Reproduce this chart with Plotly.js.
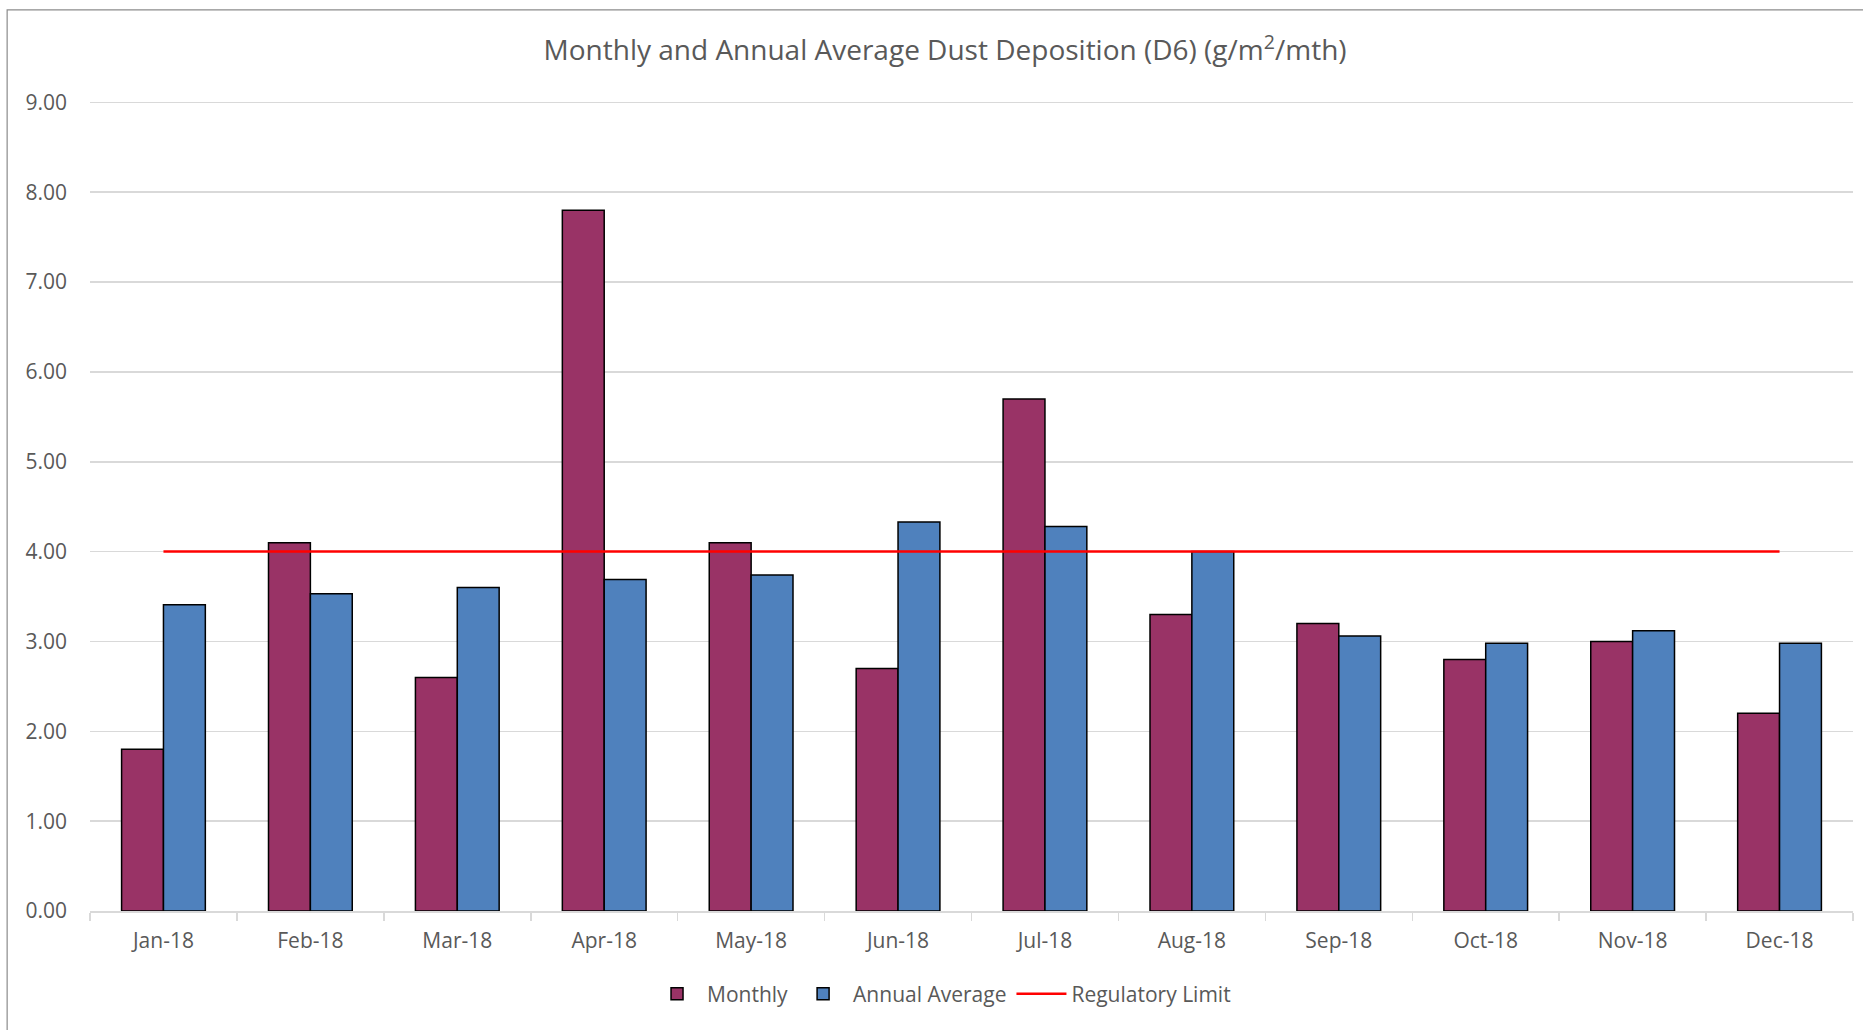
<!DOCTYPE html>
<html>
<head>
<meta charset="utf-8">
<script src="https://cdn.plot.ly/plotly-3.0.1.min.js"></script>
<style>html,body{margin:0;padding:0;background:#fff;}#chart{width:1863px;height:1030px;}</style>
</head>
<body>
<div id="chart"></div>
<script>
const months = ["Jan-18","Feb-18","Mar-18","Apr-18","May-18","Jun-18","Jul-18","Aug-18","Sep-18","Oct-18","Nov-18","Dec-18"];
const monthly = [1.8, 4.1, 2.6, 7.8, 4.1, 2.7, 5.7, 3.3, 3.2, 2.8, 3.0, 2.2];
const annualAverage = [3.41, 3.53, 3.60, 3.69, 3.74, 4.33, 4.28, 4.00, 3.06, 2.98, 3.12, 2.98];
const regulatoryLimit = [4, 4, 4, 4, 4, 4, 4, 4, 4, 4, 4, 4];
const yTicks = [0, 1, 2, 3, 4, 5, 6, 7, 8, 9];

const font = "Open Sans, Noto Sans, sans-serif";
const txt = "#595959";

const traces = [
  {type: "bar", name: "Monthly", x: months, y: monthly,
   marker: {color: "#993366", line: {color: "#000000", width: 1.5}}},
  {type: "bar", name: "Annual Average", x: months, y: annualAverage,
   marker: {color: "#4F81BD", line: {color: "#000000", width: 1.5}}},
  {type: "scatter", mode: "lines", name: "Regulatory Limit", x: months, y: regulatoryLimit,
   line: {color: "#FF0000", width: 2.5}}
];

const layout = {
  width: 1863, height: 1030,
  paper_bgcolor: "#ffffff", plot_bgcolor: "#ffffff",
  margin: {l: 90, r: 10, t: 97, b: 119},
  font: {family: font, color: txt, size: 21},
  title: {text: "Monthly and Annual Average Dust Deposition (D6) (g/m<sup>2</sup>/mth)",
          font: {family: font, size: 28, color: txt},
          x: 0.485, xref: "paper", xanchor: "center", y: 0.951, yanchor: "middle"},
  barmode: "group", bargap: 0.43, bargroupgap: 0,
  xaxis: {type: "category", showgrid: false, showline: true, linecolor: "#d9d9d9", linewidth: 1.5,
          ticks: "outside", tickson: "boundaries", ticklen: 8, tickcolor: "#d9d9d9", tickwidth: 1.5,
          ticklabelstandoff: 10,
          tickfont: {family: font, size: 21, color: txt}, automargin: false},
  yaxis: {range: [0, 9.06], tickvals: yTicks, tickformat: ".2f", showgrid: true, gridcolor: "#d9d9d9", gridwidth: 1.5,
          zeroline: false, showline: false, ticks: "", ticklabelstandoff: 22,
          tickfont: {family: font, size: 21, color: txt}, automargin: false},
  legend: {orientation: "h", x: 0.483, xanchor: "center", y: -0.102, yanchor: "middle",
           font: {family: font, size: 21, color: txt}, itemwidth: 50, traceorder: "normal"},
  shapes: [{type: "rect", xref: "paper", yref: "paper", x0: -0.047, x1: 1.5, y0: -1, y1: 1.107,
            line: {color: "#8c8c8c", width: 1.2}, fillcolor: "rgba(0,0,0,0)", layer: "below"}],
  showlegend: true
};

Plotly.newPlot("chart", traces, layout, {displayModeBar: false, staticPlot: true});
</script>
</body>
</html>
